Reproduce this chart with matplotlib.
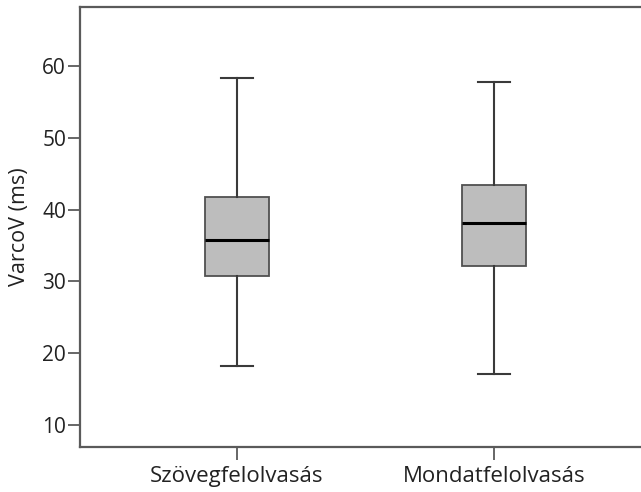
import matplotlib
matplotlib.use("Agg")
import matplotlib.pyplot as plt

plt.rcParams["font.family"] = ["Open Sans", "DejaVu Sans"]

# Box summary per reading condition (ms)
categories = ["Szövegfelolvasás", "Mondatfelolvasás"]
whisker_low = [18.15, 17.1]
q1 = [30.7, 32.2]
median = [35.8, 38.1]
q3 = [41.75, 43.4]
whisker_high = [58.3, 57.7]

EDGE = "#3a3a3a"
FILL = "#bdbdbd"
SPINE = "#5a5a5a"

fig = plt.figure(figsize=(6.41, 4.92), dpi=100)
ax = fig.add_axes([80 / 641, 45 / 492, 561 / 641, 440 / 492])

stats = [
    dict(label=c, whislo=lo, q1=a, med=m, q3=b, whishi=hi, fliers=[])
    for c, lo, a, m, b, hi in zip(categories, whisker_low, q1, median, q3, whisker_high)
]
ax.bxp(
    stats,
    positions=[1, 2],
    widths=0.25,
    capwidths=0.125,
    patch_artist=True,
    showfliers=False,
    boxprops=dict(facecolor=FILL, edgecolor="#505050", linewidth=1.3),
    medianprops=dict(color="black", linewidth=2.2),
    whiskerprops=dict(color=EDGE, linewidth=1.5),
    capprops=dict(color=EDGE, linewidth=1.5),
)

ax.set_xlim(0.391, 2.571)
ax.set_ylim(6.94, 68.2)
ax.set_yticks([10, 20, 30, 40, 50, 60])
ax.set_xticks([1, 2])
ax.set_xticklabels(categories)
ax.set_ylabel("VarcoV (ms)", fontsize=15.5, color="#222222", labelpad=9)

for side in ["left", "bottom", "top"]:
    ax.spines[side].set_color(SPINE)
    ax.spines[side].set_linewidth(1.6)
ax.spines["right"].set_visible(False)

ax.tick_params(axis="y", length=9, width=1.3, color=SPINE, labelsize=15,
               labelcolor="#222222", pad=1)
ax.tick_params(axis="x", length=9, width=1.3, color=SPINE, labelsize=16,
               labelcolor="#222222", pad=5)

fig.savefig("out.png", dpi=100)
